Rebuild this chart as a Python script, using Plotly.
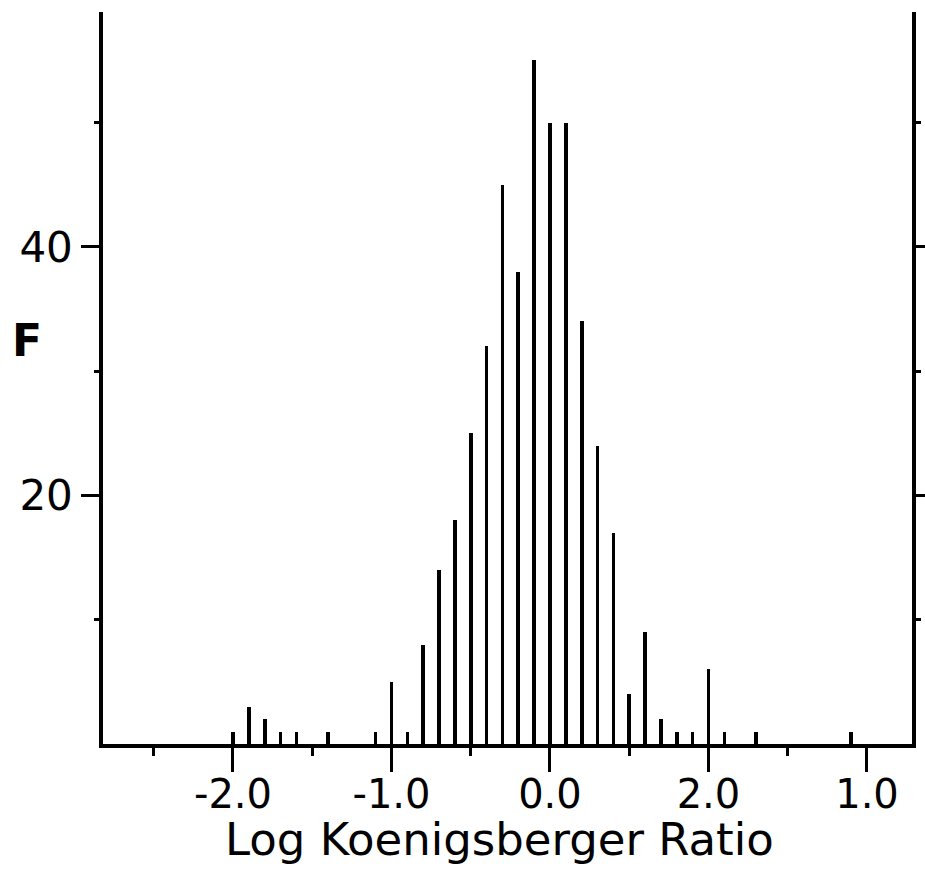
import plotly.graph_objects as go

# Bin centres (Log Koenigsberger Ratio) and frequencies
bin_centers = [-2.0, -1.9, -1.8, -1.7, -1.6, -1.4, -1.1, -1.0, -0.9, -0.8,
               -0.7, -0.6, -0.5, -0.4, -0.3, -0.2, -0.1, 0.0, 0.1, 0.2,
               0.3, 0.4, 0.5, 0.6, 0.7, 0.8, 0.9, 1.0, 1.1, 1.3, 1.9]
frequency = [1, 3, 2, 1, 1, 1, 1, 5, 1, 8,
             14, 18, 25, 32, 45, 38, 55, 50, 50, 34,
             24, 17, 4, 9, 2, 1, 1, 6, 1, 1, 1]

x_tick_vals = [-2, -1, 0, 1, 2]
x_tick_text = ["-2.0", "-1.0", "0.0", "2.0", "1.0"]
x_minor_vals = [-2.5, -1.5, -0.5, 0.5, 1.5]
y_tick_vals = [20, 40]
y_tick_text = ["20", "40"]
y_minor_vals = [10, 30, 50]

FONT = "DejaVu Sans"

fig = go.Figure()
fig.add_trace(go.Bar(
    x=bin_centers, y=frequency, width=0.023,
    marker=dict(color="black", line=dict(width=0)),
    showlegend=False,
))

fig.update_layout(
    width=925, height=872,
    margin=dict(l=103, r=13, t=12, b=128),
    paper_bgcolor="white", plot_bgcolor="white",
    font=dict(family=FONT, color="black", size=42),
    bargap=0,
    xaxis=dict(
        range=[-2.82, 2.284], automargin=False,
        showline=True, linecolor="black", linewidth=3.5,
        showgrid=False, zeroline=False,
        tickmode="array", tickvals=x_tick_vals, ticktext=x_tick_text,
        ticks="outside", ticklen=24, tickwidth=3, tickcolor="black",
        ticklabelstandoff=-12,
        tickfont=dict(family=FONT, size=40, color="black"),
        minor=dict(tickmode="array", tickvals=x_minor_vals, ticks="outside",
                   ticklen=8, tickwidth=3, tickcolor="black"),
        mirror=False,
    ),
    yaxis=dict(
        range=[0, 58.9], automargin=False,
        showline=True, linecolor="black", linewidth=3.5,
        showgrid=False, zeroline=False,
        tickmode="array", tickvals=y_tick_vals, ticktext=y_tick_text,
        ticks="outside", ticklen=18, tickwidth=3, tickcolor="black",
        tickfont=dict(family=FONT, size=42, color="black"),
        minor=dict(tickmode="array", tickvals=y_minor_vals, ticks="outside",
                   ticklen=5, tickwidth=3, tickcolor="black"),
        mirror="ticks",
    ),
    annotations=[
        dict(text="Log Koenigsberger Ratio", xref="paper", yref="paper",
             x=0.4895, y=-0.092, xanchor="center", yanchor="top",
             showarrow=False, font=dict(family=FONT, size=45, color="black")),
        dict(text="<b>F</b>", xref="paper", yref="paper",
             x=(27 - 103) / 809, y=(744 - 340) / 732, xanchor="center",
             yanchor="middle", showarrow=False,
             font=dict(family=FONT, size=44, color="black")),
    ],
)

fig.write_html("out.html")
